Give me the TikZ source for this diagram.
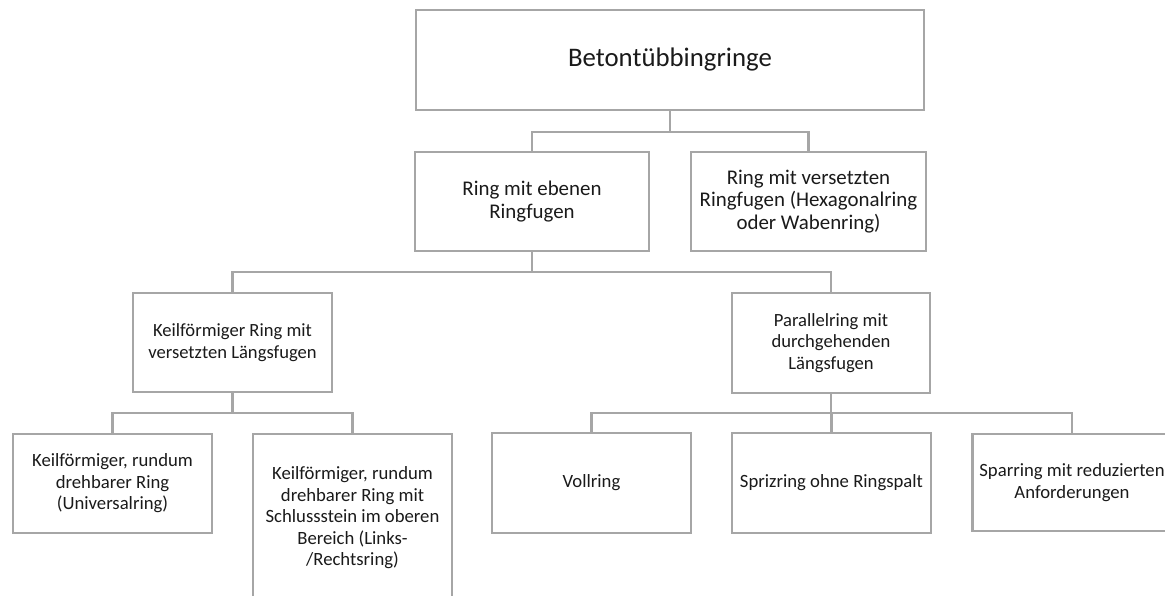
\documentclass[tikz,border=0pt]{standalone}
\usepackage{fontspec}
\setmainfont{Carlito}
\definecolor{linegray}{HTML}{A6A6A6}
\definecolor{textgray}{HTML}{1A1A1A}
\begin{document}
\begin{tikzpicture}[x=1pt,y=-1pt,
  box/.style={draw=linegray,line width=2.6pt,fill=white,align=center,text=textgray,inner sep=0pt},
  conn/.style={draw=linegray,line width=2.6pt},
  ftop/.style={font=\fontsize{26.8}{32}\selectfont},
  fone/.style={font=\fontsize{20.9}{22.5}\selectfont},
  ftwo/.style={font=\fontsize{18.6}{21.5}\selectfont},
  fleaf/.style={font=\fontsize{18.7}{21.5}\selectfont}]
\useasboundingbox (0,0) rectangle (1165,596);
\clip (0,0) rectangle (1165,596);
% nodes
\node[box,ftop,minimum width=508pt,minimum height=100pt] (top) at (670,60) {Betontübbingringe};
\node[box,fone,minimum width=234pt,minimum height=99pt] (ebenen) at (532,201.5) {Ring mit ebenen\\Ringfugen};
\node[box,fone,minimum width=235pt,minimum height=99pt] (versetzt) at (808.5,201.5) {Ring mit versetzten\\Ringfugen (Hexagonalring\\oder Wabenring)};
\node[box,ftwo,minimum width=199pt,minimum height=99pt] (keil) at (232.5,342.5) {Keilförmiger Ring mit\\versetzten Längsfugen};
\node[box,ftwo,minimum width=198pt,minimum height=100pt] (parallel) at (831,343) {Parallelring mit\\durchgehenden\\Längsfugen};
\node[box,fleaf,minimum width=199pt,minimum height=99pt] (universal) at (112.5,483.5) {Keilförmiger, rundum\\drehbarer Ring\\(Universalring)};
\node[box,fleaf,minimum width=199pt,minimum height=168pt] (linksrechts) at (352.5,518) {Keilförmiger, rundum\\drehbarer Ring mit\\Schlussstein im oberen\\Bereich (Links-\\/Rechtsring)};
\node[box,fleaf,minimum width=199pt,minimum height=100pt] (voll) at (591.5,483) {Vollring};
\node[box,fleaf,minimum width=199pt,minimum height=100pt] (spritz) at (831.5,483) {Sprizring ohne Ringspalt};
\node[box,fleaf,minimum width=199pt,minimum height=97pt] (spar) at (1072,482.5) {Sparring mit reduzierten\\Anforderungen};
% bus levels
\coordinate (bus1) at (0,132);
\coordinate (bus2) at (0,272);
\coordinate (bus3) at (0,413);
% connectors
\draw[conn] (top.south) -- (top.south |- bus1);
\draw[conn] (top.south |- bus1) -| (ebenen.north);
\draw[conn] (top.south |- bus1) -| (versetzt.north);
\draw[conn] (ebenen.south) -- (ebenen.south |- bus2);
\draw[conn] (ebenen.south |- bus2) -| (keil.north);
\draw[conn] (ebenen.south |- bus2) -| (parallel.north);
\draw[conn] (keil.south) -- (keil.south |- bus3);
\draw[conn] (keil.south |- bus3) -| (universal.north);
\draw[conn] (keil.south |- bus3) -| (linksrechts.north);
\draw[conn] (parallel.south) -- (parallel.south |- bus3);
\draw[conn] (parallel.south |- bus3) -| (voll.north);
\draw[conn] (parallel.south |- bus3) -| (spritz.north);
\draw[conn] (parallel.south |- bus3) -| (spar.north);
\end{tikzpicture}
\end{document}
